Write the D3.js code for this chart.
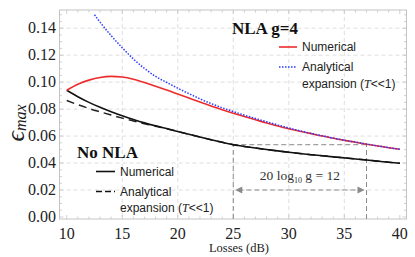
<!DOCTYPE html>
<html><head><meta charset="utf-8">
<script src="https://cdn.jsdelivr.net/npm/d3@7"></script>
<style>body{margin:0;background:#fff}svg{display:block}</style>
</head><body>
<svg id="c" width="415" height="257"></svg>
<script>
const losses = d3.range(10, 41);
const nlaNumerical = [0.0940,0.0985,0.1015,0.1035,0.1043,0.1038,0.1022,0.0998,0.0970,0.0942,0.0912,0.0882,0.0852,0.0823,0.0796,0.0770,0.0745,0.0721,0.0697,0.0675,0.0655,0.0636,0.0618,0.0600,0.0584,0.0568,0.0554,0.0540,0.0527,0.0514,0.0502];
const nlaLosses = [12.5,13,14,15,16,17,18,19,20,21,22,23,24,25,26,27,28,29,30,31,32,33,34,35,36,37,38,39,40];
const nlaAnalytical = [0.1500,0.1445,0.1345,0.1255,0.1172,0.1102,0.1042,0.0998,0.0955,0.0915,0.0876,0.0841,0.0810,0.0782,0.0755,0.0730,0.0706,0.0683,0.0660,0.0639,0.0620,0.0602,0.0585,0.0569,0.0555,0.0541,0.0527,0.0514,0.0502];
const noNlaNumerical = [0.0940,0.0892,0.0850,0.0813,0.0780,0.0750,0.0723,0.0698,0.0676,0.0656,0.0634,0.0613,0.0593,0.0573,0.0554,0.0536,0.0523,0.0511,0.0500,0.0490,0.0480,0.0471,0.0462,0.0454,0.0446,0.0438,0.0430,0.0422,0.0414,0.0406,0.0398];
const noNlaAnalytical = [0.0864,0.0833,0.0805,0.0780,0.0756,0.0733,0.0712,0.0692,0.0673,0.0655,0.0634,0.0613,0.0593,0.0573,0.0554,0.0536,0.0523,0.0511,0.0500,0.0490,0.0480,0.0471,0.0462,0.0454,0.0446,0.0438,0.0430,0.0422,0.0414,0.0406,0.0398];
const xTicks = [10,15,20,25,30,35,40];
const yTicks = [0,0.02,0.04,0.06,0.08,0.10,0.12,0.14];
const xGrid = [15,20,25,30,35];
const yGrid = [0.02,0.04,0.06,0.08,0.10,0.12,0.14];
const gainDb = 12, refLoss = 25, arrowY = 0.02;

const svg = d3.select('#c');
const L=59.5, R=406.5, T=10, B=219;
const x = d3.scaleLinear().domain([9.35,40.6]).range([L,R]);
const y = d3.scaleLinear().domain([-0.0015,0.1535]).range([B,T]);
const serif = '"Liberation Serif","Times New Roman",serif';
const sans = '"Liberation Sans",Arial,sans-serif';

// grid
const g = svg.append('g');
g.selectAll('.gx').data(xGrid).join('line').attr('x1',d=>x(d)).attr('x2',d=>x(d)).attr('y1',T).attr('y2',B)
 .attr('stroke','#d6d6d6').attr('stroke-width',0.8).attr('stroke-dasharray','4,3');
g.selectAll('.gy').data(yGrid).join('line').attr('y1',d=>y(d)).attr('y2',d=>y(d)).attr('x1',L).attr('x2',R)
 .attr('stroke','#d6d6d6').attr('stroke-width',0.8).attr('stroke-dasharray','4,3');

// frame
svg.append('rect').attr('x',L).attr('y',T).attr('width',R-L).attr('height',B-T).attr('fill','none').attr('stroke','#c4c4c4').attr('stroke-width',1);

// ticks
const xMinor = d3.range(10,41,1), yMinor = d3.range(0,0.151,0.005);
const tk = svg.append('g').attr('stroke','#c4c4c4').attr('stroke-width',0.8);
xMinor.forEach(v=>{const s = v%5===0?4:2.5;
  tk.append('line').attr('x1',x(v)).attr('x2',x(v)).attr('y1',B).attr('y2',B-s);
  tk.append('line').attr('x1',x(v)).attr('x2',x(v)).attr('y1',T).attr('y2',T+s);});
yMinor.forEach(v=>{const s = Math.abs(v/0.02-Math.round(v/0.02))<1e-6?4:2.5;
  tk.append('line').attr('y1',y(v)).attr('y2',y(v)).attr('x1',L).attr('x2',L+s);
  tk.append('line').attr('y1',y(v)).attr('y2',y(v)).attr('x1',R).attr('x2',R-s);});

// tick labels
svg.selectAll('.xl').data(xTicks).join('text').attr('x',d=>x(d)).attr('y',239).attr('text-anchor','middle')
 .attr('font-family',serif).attr('font-size',16).attr('fill','#222').text(d=>d);
svg.selectAll('.yl').data(yTicks).join('text').attr('x',56).attr('y',d=>y(d)+5).attr('text-anchor','end')
 .attr('font-family',serif).attr('font-size',16).attr('fill','#222').text(d=>d.toFixed(2));

svg.append('text').attr('x',239).attr('y',252).attr('text-anchor','middle').attr('font-family',serif).attr('font-size',12.5).attr('fill','#222').text('Losses (dB)');
const yl = svg.append('text').attr('transform','translate(24,123) rotate(-90)').attr('text-anchor','middle').attr('font-family',serif).attr('font-style','italic').attr('fill','#222');
yl.append('tspan').attr('font-size',26).text('ϵ');
yl.append('tspan').attr('font-size',16).attr('dy',2).text('max');

// annotation dashed lines
const ann = svg.append('g').attr('stroke','#8a8a8a').attr('stroke-width',1).attr('stroke-dasharray','5,3').attr('fill','none');
const hY = noNlaNumerical[losses.indexOf(refLoss)];
ann.append('line').attr('x1',x(refLoss)).attr('x2',x(refLoss)).attr('y1',B).attr('y2',y(hY));
ann.append('line').attr('x1',x(refLoss+gainDb)).attr('x2',x(refLoss+gainDb)).attr('y1',B).attr('y2',y(hY));
ann.append('line').attr('x1',x(refLoss)).attr('x2',x(refLoss+gainDb)).attr('y1',y(hY)).attr('y2',y(hY));
ann.append('line').attr('x1',x(refLoss)+5).attr('x2',x(refLoss+gainDb)-5).attr('y1',y(arrowY)).attr('y2',y(arrowY));
const ah = svg.append('g').attr('fill','#8a8a8a');
const ay = y(arrowY);
ah.append('path').attr('d',`M${x(refLoss)+2},${ay} l7,-3.5 l0,7 z`);
ah.append('path').attr('d',`M${x(refLoss+gainDb)-2},${ay} l-7,-3.5 l0,7 z`);
const at = svg.append('text').attr('x',x(refLoss+gainDb/2)).attr('y',180).attr('text-anchor','middle').attr('font-family',serif).attr('font-size',13.5).attr('fill','#333');
at.append('tspan').text('20 log');
at.append('tspan').attr('font-size',8).attr('dy',3).text('10');
at.append('tspan').attr('dy',-3).text(' g = 12');

// curves
const line = d3.line().x(d=>x(d[0])).y(d=>y(d[1])).curve(d3.curveMonotoneX);
svg.append('path').attr('d',line(losses.map((l,i)=>[l,noNlaAnalytical[i]]))).attr('fill','none').attr('stroke','#222').attr('stroke-width',1.5).attr('stroke-dasharray','8,5');
svg.append('path').attr('d',line(losses.map((l,i)=>[l,noNlaNumerical[i]]))).attr('fill','none').attr('stroke','#111').attr('stroke-width',1.6);
svg.append('path').attr('d',line(losses.map((l,i)=>[l,nlaNumerical[i]]))).attr('fill','none').attr('stroke','#ee2b2b').attr('stroke-width',1.6);
svg.append('path').attr('d',line(nlaLosses.map((l,i)=>[l,nlaAnalytical[i]]))).attr('fill','none').attr('stroke','#2a3cff').attr('stroke-width',1.5).attr('stroke-dasharray','1.5,1.5');

// legends
const lf = 12;
svg.append('text').attr('x',232).attr('y',34).attr('font-family',serif).attr('font-weight','bold').attr('font-size',17).attr('fill','#111').text('NLA g=4');
svg.append('line').attr('x1',279).attr('x2',297).attr('y1',47).attr('y2',47).attr('stroke','#ee2b2b').attr('stroke-width',1.6);
svg.append('text').attr('x',302).attr('y',51).attr('font-family',sans).attr('font-size',lf).attr('fill','#222').text('Numerical');
svg.append('line').attr('x1',279).attr('x2',297).attr('y1',67).attr('y2',67).attr('stroke','#2a3cff').attr('stroke-width',1.5).attr('stroke-dasharray','1.5,1.5');
svg.append('text').attr('x',302).attr('y',71).attr('font-family',sans).attr('font-size',lf).attr('fill','#222').text('Analytical');
const e1 = svg.append('text').attr('x',302).attr('y',88).attr('font-family',sans).attr('font-size',lf).attr('fill','#222');
e1.append('tspan').text('expansion (');
e1.append('tspan').attr('font-family',serif).attr('font-style','italic').text('T');
e1.append('tspan').text('<<1)');

svg.append('text').attr('x',77).attr('y',158).attr('font-family',serif).attr('font-weight','bold').attr('font-size',17).attr('fill','#111').text('No NLA');
svg.append('line').attr('x1',96).attr('x2',115).attr('y1',171.5).attr('y2',171.5).attr('stroke','#111').attr('stroke-width',1.6);
svg.append('text').attr('x',120).attr('y',175.5).attr('font-family',sans).attr('font-size',lf).attr('fill','#222').text('Numerical');
svg.append('line').attr('x1',96).attr('x2',115).attr('y1',191.5).attr('y2',191.5).attr('stroke','#111').attr('stroke-width',1.5).attr('stroke-dasharray','6,3');
svg.append('text').attr('x',120).attr('y',196).attr('font-family',sans).attr('font-size',lf).attr('fill','#222').text('Analytical');
const e2 = svg.append('text').attr('x',120).attr('y',212).attr('font-family',sans).attr('font-size',lf).attr('fill','#222');
e2.append('tspan').text('expansion (');
e2.append('tspan').attr('font-family',serif).attr('font-style','italic').text('T');
e2.append('tspan').text('<<1)');
</script>
</body></html>
